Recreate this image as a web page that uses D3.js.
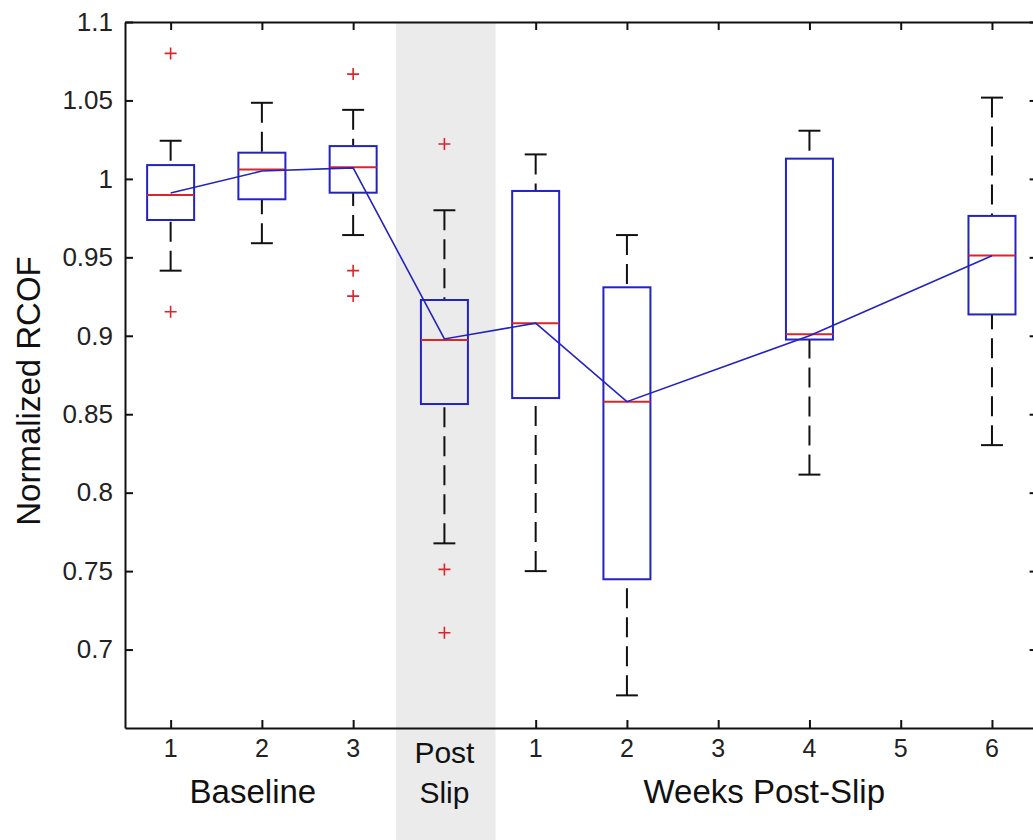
<!DOCTYPE html>
<html>
<head>
<meta charset="utf-8">
<script src="https://cdn.jsdelivr.net/npm/d3@7/dist/d3.min.js"></script>
<style>
  html, body { margin: 0; padding: 0; background: #fff; }
  svg { display: block; }
  text { font-family: "Liberation Sans", Arial, Helvetica, sans-serif; }
</style>
</head>
<body>
<svg id="chart" width="1033" height="840"></svg>
<script>
// ---------- data ----------
const categories = ["1", "2", "3", "Post Slip", "1", "2", "3", "4", "5", "6"];
const tickPositions = [1, 2, 3, 5, 6, 7, 8, 9, 10];
const boxPositions = [1, 2, 3, 4, 5, 6, 8, 10];
const whiskerLow  = [0.9415, 0.959, 0.9642, 0.7677, 0.750, 0.6708, 0.8115, 0.8303];
const q1          = [0.9738, 0.987, 0.9912, 0.8565, 0.8603, 0.7448, 0.8976, 0.9136];
const medians     = [0.9897, 1.006, 1.0074, 0.8973, 0.908, 0.858, 0.9009, 0.9512];
const q3          = [1.0088, 1.0167, 1.0209, 0.9228, 0.9923, 0.9309, 1.0129, 0.9764];
const whiskerHigh = [1.0243, 1.0485, 1.044, 0.980, 1.0156, 0.9642, 1.0307, 1.0518];
const outlierPositions = [1, 1, 3, 3, 3, 4, 4, 4];
const outlierValues    = [1.080, 0.9153, 1.0668, 0.9415, 0.9253, 1.0222, 0.7511, 0.7107];
const trendValues = [0.991, 1.005, 1.007, 0.898, 0.908, 0.858, 0.900, 0.951];
const yTicks = [0.7, 0.75, 0.8, 0.85, 0.9, 0.95, 1.0, 1.05, 1.1];
const yTickLabels = ["0.7", "0.75", "0.8", "0.85", "0.9", "0.95", "1", "1.05", "1.1"];
const postSlipBand = [3.47, 4.56];
const groupLabels = ["Baseline", "Weeks Post-Slip"];
const yLabel = "Normalized RCOF";

// ---------- layout ----------
const svg = d3.select("#chart");
const mLeft = 125, mRight = 1037.6, mTop = 22, mBottom = 728;
const x = d3.scaleLinear().domain([0.5, 10.5]).range([mLeft, mRight]);
const y = d3.scaleLinear().domain([0.65, 1.1]).range([mBottom, mTop]);
const unit = x(2) - x(1);
const boxW = 0.515 * unit, capW = 0.24 * unit;

const BLUE = "#2323c0", RED = "#d8262a";

// shaded post-slip band
svg.append("rect")
  .attr("x", x(postSlipBand[0]))
  .attr("y", mTop + 1)
  .attr("width", x(postSlipBand[1]) - x(postSlipBand[0]))
  .attr("height", 840 - mTop)
  .attr("fill", "#ebebeb");

// axes
const fmt = v => yTickLabels[yTicks.indexOf(v)];
const axL = svg.append("g").attr("transform", `translate(${mLeft},0)`)
  .call(d3.axisLeft(y).tickValues(yTicks).tickFormat(fmt).tickSize(-8).tickSizeOuter(0).tickPadding(12));
const axR = svg.append("g").attr("transform", `translate(${mRight},0)`)
  .call(d3.axisRight(y).tickValues(yTicks).tickFormat("").tickSize(-8).tickSizeOuter(0));
const axB = svg.append("g").attr("transform", `translate(0,${mBottom})`)
  .call(d3.axisBottom(x).tickValues(tickPositions).tickFormat("").tickSize(-8).tickSizeOuter(0));
const axT = svg.append("g").attr("transform", `translate(0,${mTop})`)
  .call(d3.axisTop(x).tickValues(tickPositions).tickFormat("").tickSize(-8).tickSizeOuter(0));
[axL, axR, axB, axT].forEach(a => {
  a.select(".domain").attr("stroke", "#111").attr("stroke-width", 2);
  a.selectAll(".tick line").attr("stroke", "#111").attr("stroke-width", 2);
});
axL.selectAll(".tick text")
  .attr("font-size", 26).attr("fill", "#222")
  .attr("font-family", "'Liberation Sans', Arial, sans-serif");

// x category labels
categories.forEach((c, i) => {
  const pos = i + 1;
  if (c === "Post Slip") {
    const parts = c.split(" ");
    parts.forEach((p, j) => {
      svg.append("text").attr("x", x(pos)).attr("y", 763 + j * 40)
        .attr("text-anchor", "middle").attr("font-size", 30).attr("fill", "#111").text(p);
    });
  } else {
    svg.append("text").attr("x", x(pos)).attr("y", 757)
      .attr("text-anchor", "middle").attr("font-size", 25).attr("fill", "#222").text(c);
  }
});

// group labels
svg.append("text").attr("x", (x(1) + x(3)) / 2 - 9).attr("y", 803)
  .attr("text-anchor", "middle").attr("font-size", 33).attr("fill", "#111").text(groupLabels[0]);
svg.append("text").attr("x", (x(5) + x(10)) / 2 + 0.5).attr("y", 803)
  .attr("text-anchor", "middle").attr("font-size", 33).attr("fill", "#111").text(groupLabels[1]);

// y label
svg.append("text").attr("transform", "translate(40,391) rotate(-90)")
  .attr("text-anchor", "middle").attr("font-size", 33).attr("fill", "#111").text(yLabel);

// boxes
const boxes = svg.append("g");
boxPositions.forEach((p, i) => {
  const cx = x(p);
  const g = boxes.append("g");
  // whiskers
  [[q3[i], whiskerHigh[i]], [q1[i], whiskerLow[i]]].forEach(([a, b]) => {
    g.append("line").attr("x1", cx).attr("x2", cx).attr("y1", y(b)).attr("y2", y(a))
      .attr("stroke", "#111").attr("stroke-width", 2).attr("stroke-dasharray", "20,9");
    g.append("line").attr("x1", cx - capW / 2).attr("x2", cx + capW / 2)
      .attr("y1", y(b)).attr("y2", y(b)).attr("stroke", "#111").attr("stroke-width", 2);
  });
  g.append("rect").attr("x", cx - boxW / 2).attr("y", y(q3[i]))
    .attr("width", boxW).attr("height", y(q1[i]) - y(q3[i]))
    .attr("fill", "none").attr("stroke", BLUE).attr("stroke-width", 2);
  g.append("line").attr("x1", cx - boxW / 2).attr("x2", cx + boxW / 2)
    .attr("y1", y(medians[i])).attr("y2", y(medians[i]))
    .attr("stroke", RED).attr("stroke-width", 2);
});

// trend line
svg.append("path")
  .datum(boxPositions.map((p, i) => [p, trendValues[i]]))
  .attr("d", d3.line().x(d => x(d[0])).y(d => y(d[1])))
  .attr("fill", "none").attr("stroke", BLUE).attr("stroke-width", 1.6);

// outliers
const s = 6;
outlierPositions.forEach((p, i) => {
  const cx = x(p), cy = y(outlierValues[i]);
  svg.append("path")
    .attr("d", `M${cx - s},${cy}H${cx + s}M${cx},${cy - s}V${cy + s}`)
    .attr("stroke", RED).attr("stroke-width", 1.6).attr("fill", "none");
});
</script>
</body>
</html>
